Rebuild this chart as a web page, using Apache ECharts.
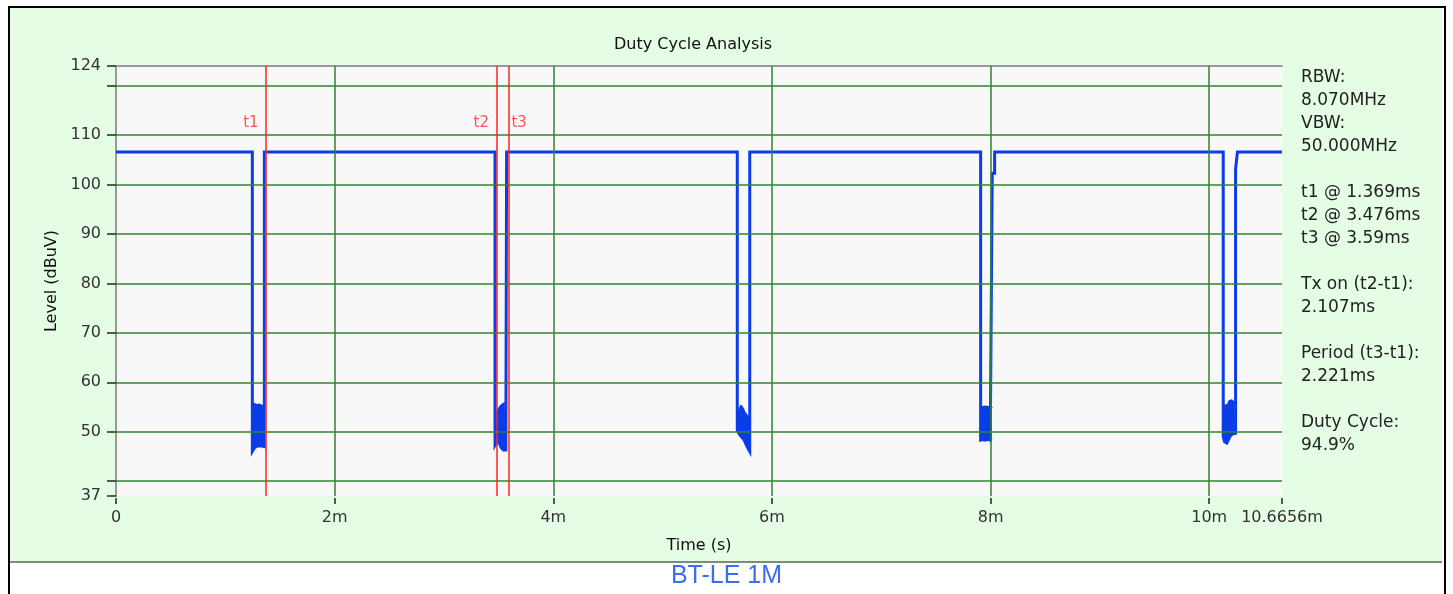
<!DOCTYPE html>
<html>
<head>
<meta charset="utf-8">
<script src="https://cdn.jsdelivr.net/npm/echarts@6/dist/echarts.min.js"></script>
<style>
  html, body { margin:0; padding:0; background:#fff; width:1453px; height:594px; overflow:hidden; }
  #frame { position:absolute; left:8px; top:6px; width:1434px; height:600px; border:2px solid #000; border-bottom:none; box-sizing:content-box; }
  #panel { position:absolute; left:10px; top:8px; width:1432px; height:553px; background:#e5fce5; border-bottom:2px solid #7c8c7c; }
  #chart { position:absolute; left:0; top:0; width:1453px; height:594px; }
</style>
</head>
<body>
<div id="frame"></div>
<div id="panel"></div>
<div id="chart"></div>
<script>
// ---- data (time in ms, level in dBuV) ----
const xMin = 0;
const xMax = 10.6656;
const yMin = 37;
const yMax = 124;
const xLabelValues = [0, 2, 4, 6, 8, 10, 10.6656];
const yLabelValues = [37, 50, 60, 70, 80, 90, 100, 110, 124];
const yTickValues = [37, 40, 50, 60, 70, 80, 90, 100, 110, 120, 124];
const gridX = [2, 4, 6, 8, 10];
const gridY = [40, 50, 60, 70, 80, 90, 100, 110, 120];
const markerNames = ['t1', 't2', 't3'];
const markerTimes = [1.369, 3.476, 3.59];
const markerLabelLevel = 112.5;

const highLevel = 106.6;
const traceStart = [[0, 106.6]];
const traceEnd = [[10.6656, 106.6]];
const blips = [[2.72, 106.6], [2.725, 107.0], [2.73, 106.6], [4.77, 106.6], [4.775, 107.0], [4.78, 106.6], [9.07, 106.6], [9.075, 107.0], [9.08, 106.6]];

// off periods: sample times, noisy top envelope, noisy bottom envelope, rise edge
const dip1Times  = [1.247, 1.258, 1.269, 1.280, 1.291, 1.302, 1.313, 1.324, 1.335, 1.346, 1.357];
const dip1Top    = [55.7, 55.7, 55.6, 55.5, 55.4, 55.4, 55.5, 55.6, 55.3, 55.0, 54.5];
const dip1Bottom = [46.0, 46.0, 46.8, 47.0, 47.1, 47.0, 47.1, 47.0, 47.1, 47.0, 47.0];
const dip1Rise   = [[1.357, 106.6]];

const dip2Times  = [3.467, 3.478, 3.489, 3.500, 3.511, 3.522, 3.533, 3.544, 3.555, 3.566, 3.573];
const dip2Top    = [54.1, 54.0, 54.2, 54.5, 55.0, 55.3, 55.5, 55.7, 55.8, 55.8, 55.6];
const dip2Bottom = [47.3, 47.5, 48.2, 48.5, 47.5, 46.8, 46.4, 46.3, 46.3, 46.3, 46.3];
const dip2Rise   = [[3.573, 106.6]];

const dip3Times  = [5.683, 5.694, 5.705, 5.716, 5.727, 5.738, 5.749, 5.760, 5.771, 5.782, 5.797];
const dip3Top    = [53.4, 53.8, 54.6, 55.3, 55.4, 54.6, 53.9, 53.6, 53.3, 53.0, 52.5];
const dip3Bottom = [50.3, 49.9, 49.4, 49.2, 48.8, 48.6, 48.2, 47.6, 47.2, 46.6, 46.0];
const dip3Rise   = [[5.797, 106.6]];

const dip4Times  = [7.909, 7.920, 7.931, 7.942, 7.953, 7.964, 7.975, 7.986, 7.997, 8.008, 8.015];
const dip4Top    = [55.1, 55.1, 55.0, 54.9, 55.1, 55.0, 55.0, 55.1, 55.0, 54.8, 54.8];
const dip4Bottom = [48.3, 48.3, 48.4, 48.5, 48.3, 48.4, 48.5, 48.3, 48.3, 48.3, 48.3];
const dip4Rise   = [[8.015, 102.3], [8.037, 102.3], [8.037, 106.6]];

const dip5Times  = [10.128, 10.139, 10.150, 10.161, 10.172, 10.183, 10.194, 10.205, 10.216, 10.227, 10.241];
const dip5Top    = [55.4, 55.4, 55.3, 55.1, 55.5, 56.2, 56.4, 56.4, 56.2, 55.9, 55.5];
const dip5Bottom = [49.0, 48.0, 47.7, 47.7, 48.2, 48.7, 49.2, 49.5, 49.6, 49.7, 49.7];
const dip5Rise   = [[10.241, 103.2], [10.258, 103.2], [10.258, 106.6]];

const infoLines = ['RBW:', '8.070MHz', 'VBW:', '50.000MHz', '', 't1 @ 1.369ms', 't2 @ 3.476ms', 't3 @ 3.59ms', '', 'Tx on (t2-t1):', '2.107ms', '', 'Period (t3-t1):', '2.221ms', '', 'Duty Cycle:', '94.9%'];

// ---- build ----
const dips = [
  [dip1Times, dip1Top, dip1Bottom, dip1Rise],
  [dip2Times, dip2Top, dip2Bottom, dip2Rise],
  [dip3Times, dip3Top, dip3Bottom, dip3Rise],
  [dip4Times, dip4Top, dip4Bottom, dip4Rise],
  [dip5Times, dip5Top, dip5Bottom, dip5Rise]
];
function dipTrace(d) {
  const [times, , bottom, rise] = d;
  return [[times[0], highLevel]].concat(times.map((t, i) => [t, bottom[i]]), rise);
}
const trace = traceStart.concat(dipTrace(dips[0]), blips.slice(0, 3), dipTrace(dips[1]), blips.slice(3, 6),
  dipTrace(dips[2]), dipTrace(dips[3]), blips.slice(6, 9), dipTrace(dips[4]), traceEnd);

const FONT = '"DejaVu Sans", "Noto Sans", sans-serif';
const GREEN = '#2f852f';
const BLUE = '#0a3de6';

// noise block of each off period: a stacked area between the bottom and top envelopes
// (value first, time second, so the stack is applied to the level dimension)
function blockSeries(d, k) {
  const [times, top, bottom] = d;
  const common = {
    type: 'line', stack: 'noise' + k, silent: true, showSymbol: false, z: 3,
    encode: { x: 1, y: 0 }, dimensions: ['level', 'time']
  };
  return [
    Object.assign({}, common, {
      data: times.map((t, i) => [bottom[i], t]),
      lineStyle: { width: 0, opacity: 0 }
    }),
    Object.assign({}, common, {
      data: times.map((t, i) => [top[i] - bottom[i], t]),
      lineStyle: { color: BLUE, width: 2 },
      areaStyle: { color: BLUE, opacity: 1 }
    })
  ];
}

const chart = echarts.init(document.getElementById('chart'), null, { renderer: 'canvas' });
chart.setOption({
  animation: false,
  backgroundColor: 'transparent',
  title: {
    text: 'Duty Cycle Analysis',
    left: 609, top: 32,
    textStyle: { fontFamily: FONT, fontSize: 16, fontWeight: 'normal', color: '#111' }
  },
  grid: {
    left: 116, right: 171, top: 66, bottom: 98,
    show: true, backgroundColor: '#f8f8f8', borderWidth: 0
  },
  xAxis: [{
    type: 'value', min: xMin, max: xMax, offset: 2,
    name: 'Time (s)', nameLocation: 'middle', nameGap: 40,
    nameTextStyle: { fontFamily: FONT, fontSize: 16, color: '#111' },
    axisLine: { show: false },
    axisTick: { show: true, length: 6, customValues: xLabelValues, lineStyle: { color: '#222', width: 1.5 } },
    axisLabel: {
      customValues: xLabelValues, margin: 12,
      fontFamily: FONT, fontSize: 16, color: '#333',
      formatter: v => (v === 0 ? '0' : v + 'm')
    },
    splitLine: { show: false }
  }, {
    type: 'value', min: xMin, max: xMax, position: 'top',
    axisLine: { show: true, lineStyle: { color: '#9a9a9a', width: 2 } },
    axisTick: { show: false }, axisLabel: { show: false }, splitLine: { show: false }
  }],
  yAxis: {
    type: 'value', min: yMin, max: yMax,
    name: 'Level (dBuV)', nameLocation: 'middle', nameGap: 47, nameRotate: 90,
    nameTextStyle: { fontFamily: FONT, fontSize: 16, color: '#111' },
    axisLine: { show: true, lineStyle: { color: '#9a9a9a', width: 2 } },
    axisTick: { show: true, length: 9, customValues: yTickValues, lineStyle: { color: '#222', width: 1.5 } },
    axisLabel: { customValues: yLabelValues, margin: 15, fontFamily: FONT, fontSize: 16, color: '#333' },
    splitLine: { show: false }
  },
  graphic: [{
    type: 'text', left: 1301, top: 66, silent: true,
    style: { text: infoLines.join('\n'), fontFamily: FONT, fontSize: 17, lineHeight: 23, fill: '#222' }
  }, {
    type: 'text', left: 'center', top: 564, silent: true,
    style: { text: 'BT-LE 1M', fontFamily: '"Liberation Sans", Arial, sans-serif', fontSize: 25, fill: '#3d6ef0' }
  }],
  series: [{
    type: 'line', data: [], silent: true, z: 1,
    markLine: {
      silent: true, symbol: 'none', label: { show: false },
      lineStyle: { color: GREEN, width: 1.5, type: 'solid' },
      data: gridY.map(v => ({ yAxis: v })).concat(gridX.map(v => ({ xAxis: v })))
    }
  }, {
    type: 'line', data: [], silent: true, z: 2,
    markLine: {
      silent: true, symbol: 'none', label: { show: false },
      lineStyle: { color: '#ff2424', width: 1.5, type: 'solid' },
      data: markerTimes.map(v => ({ xAxis: v }))
    }
  }].concat(...dips.map(blockSeries), [{
    name: 'trace', type: 'line', data: trace, showSymbol: false, z: 4,
    lineStyle: { color: BLUE, width: 3, join: 'miter' }
  }, {
    type: 'scatter', symbolSize: 0, z: 5, silent: true,
    data: markerNames.map((n, i) => ({
      name: n, value: [markerTimes[i], markerLabelLevel],
      label: { position: i === 2 ? 'right' : 'left', distance: i === 2 ? 3 : 7 }
    })),
    label: { show: true, formatter: p => p.name, fontFamily: FONT, fontSize: 15, color: '#ff2a2a' }
  }])
});
</script>
</body>
</html>
